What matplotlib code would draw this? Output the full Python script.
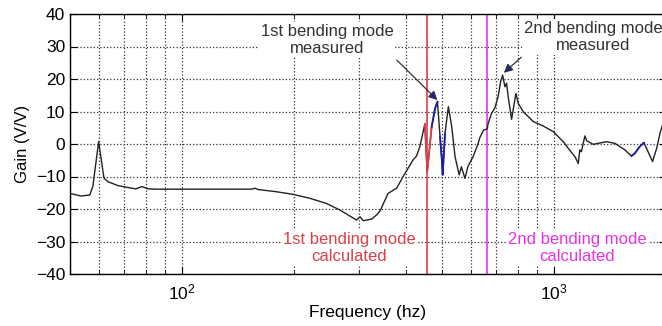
import matplotlib
matplotlib.use("Agg")
import matplotlib.pyplot as plt
import numpy as np

plt.rcParams['font.family'] = ['Liberation Sans', 'DejaVu Sans']
plt.rcParams['mathtext.fontset'] = 'custom'
plt.rcParams['mathtext.rm'] = 'Liberation Sans'

freq_hz = [50, 53.5, 56.5, 57.6, 59.7, 60.7, 61.7, 63.2, 67.3, 71.6, 75.2, 78.1, 81, 85,
           111.8, 153.9, 157, 160, 179.7, 199, 220.6, 244.5, 265.6, 294.6, 301, 307,
           323.7, 333.6, 340.7, 358, 377.6, 393, 418, 427, 436, 449.6, 456.3, 469, 479,
           486, 494, 499.5, 502, 509.4, 520, 531, 542, 556, 563.7, 576.3, 586.6, 606,
           625.5, 631, 647, 657.6, 662, 664, 679, 693, 707.6, 718.6, 727.6, 738, 745.6,
           753, 769, 776.6, 790, 801.5, 827, 880, 936.6, 995.7, 1059, 1100, 1140, 1162,
           1173, 1185, 1198, 1211, 1224, 1275, 1385, 1458, 1550, 1615, 1648, 1700, 1745,
           1790, 1840, 1888, 1932, 1958, 2000]
gain_vv = [-15.2, -16.0, -15.7, -13.0, 0.7, -5.0, -10.5, -11.6, -12.8, -13.4, -13.8, -13.1, -13.8, -13.9,
           -13.9, -13.9, -13.6, -14.0, -14.7, -15.5, -16.7, -18.3, -20.3, -23.4, -22.4, -23.6,
           -23.1, -21.8, -20.6, -15.2, -13.6, -10.0, -4.9, -3.7, -0.8, 6.2, -8.5, 5.3, 11.0,
           13.0, 2.2, -4.9, -9.5, 3.3, 11.5, 5.3, -3.9, -9.5, -7.0, -10.6, -7.0, -3.9,
           0.2, 1.8, 4.3, 4.5, 4.8, 6.0, 9.4, 11.0, 14.6, 19.2, 21.2, 17.6, 18.7,
           14.6, 7.6, 10.5, 15.6, 12.5, 9.9, 6.9, 5.5, 3.8, 0.7, -1.8, -4.0, -6.0,
           -1.8, -2.4, 0.2, 2.5, 1.0, -0.1, 0.7, 0.2, -1.8, -3.7, -2.9, -0.8, 0.4,
           -2.4, -5.4, -1.3, 3.8, 5.8, 7.0]

mode1_calc_hz = 457
mode2_calc_hz = 662
mode1_meas = (486, 13.5)
mode1_tail = (378, 25.8)
mode2_meas = (733, 21.9)
mode2_tail = (817, 26.7)

x_ticks = [100, 1000]
y_ticks = [-40, -30, -20, -10, 0, 10, 20, 30, 40]

red_c = '#d8404a'
mag_c = '#e632e6'
blue_c = '#1c1ca8'

fig = plt.figure(figsize=(6.62, 3.26), dpi=100)
ax = fig.add_axes([70/662, 52/326, 596/662, 260/326])

f = np.array(freq_hz)
g = np.array(gain_vv)
ax.plot(f, g, color='#222222', lw=1.0, zorder=3)
# coloured segments on the curve
for lo, hi, c in [(449.6, 469, red_c), (469, 486, blue_c), (494, 509.4, blue_c), (1615, 1745, blue_c)]:
    m = (f >= lo) & (f <= hi)
    ax.plot(f[m], g[m], color=c, lw=1.3, zorder=4)

ax.axvline(mode1_calc_hz, color=red_c, lw=1.2, zorder=2)
ax.axvline(mode2_calc_hz, color=mag_c, lw=1.2, zorder=2)

ax.set_xscale('log')
ax.set_xlim(50, 2000)
ax.set_ylim(-40, 40)
ax.set_xticks(x_ticks)
ax.set_yticks(y_ticks)
ax.grid(True, which='major', axis='both', linestyle=':', color='#333333', lw=0.9)
ax.grid(True, which='minor', axis='x', linestyle=':', color='#333333', lw=0.9)
ax.tick_params(which='both', direction='in', top=True, right=True, labelsize=12.5)
ax.tick_params(which='major', length=5)
ax.tick_params(which='minor', length=3)
ax.tick_params(axis='x', pad=6)
for s in ax.spines.values():
    s.set_linewidth(1.0)

ax.set_xlabel('Frequency (hz)', fontsize=12.5, labelpad=2)
ax.set_ylabel('Gain (V/V)', fontsize=12, labelpad=4)

bbox = dict(facecolor='white', edgecolor='none', pad=1)
arrow = dict(arrowstyle='-|>', edgecolor='#333333', facecolor=blue_c, lw=0.9,
             mutation_scale=13, shrinkA=0, shrinkB=0)
ax.annotate('', xy=mode1_meas, xytext=mode1_tail, arrowprops=arrow, zorder=6)
ax.annotate('', xy=mode2_meas, xytext=mode2_tail, arrowprops=arrow, zorder=6)

fig.text(327/662, 1-40/326, '1st bending mode\nmeasured', ha='center', va='center',
         fontsize=12, color='#333333', bbox=bbox, zorder=5)
fig.text(593/662, 1-37/326, '2nd bending mode\nmeasured', ha='center', va='center',
         fontsize=12, color='#333333', bbox=bbox, zorder=5)
fig.text(349/662, 1-248/326, '1st bending mode\ncalculated', ha='center', va='center',
         fontsize=12, color=red_c, bbox=bbox, zorder=5)
fig.text(577/662, 1-248/326, '2nd bending mode\ncalculated', ha='center', va='center',
         fontsize=12, color=mag_c, bbox=bbox, zorder=5)

fig.savefig('out.png', dpi=100)
